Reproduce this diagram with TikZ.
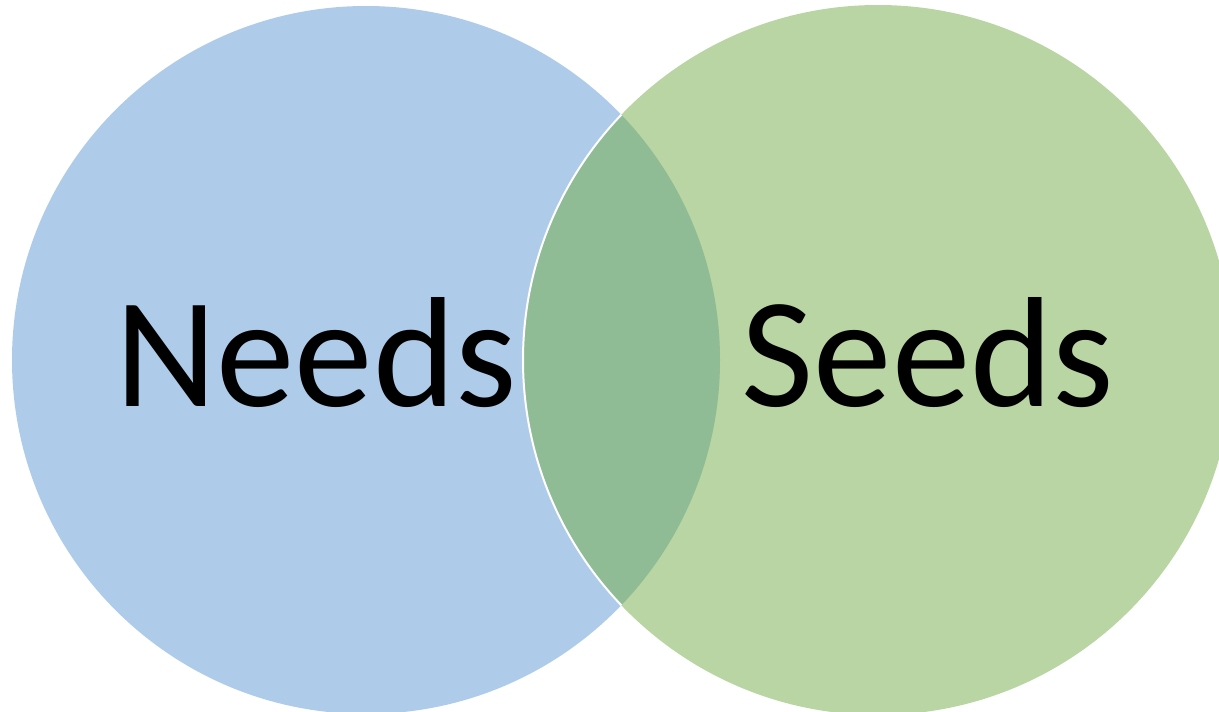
\documentclass[tikz,border=0pt]{standalone}
\usepackage{fontspec}
\setmainfont{Carlito}
\definecolor{needsblue}{HTML}{AECCE9}
\definecolor{seedsgreen}{HTML}{B8D5A3}
\definecolor{bothgreen}{HTML}{8FBB95}
\tikzset{
  word/.style={anchor=base, inner sep=0pt, font=\fontsize{157}{185}\selectfont}
}
\begin{document}
\begin{tikzpicture}[x=1pt, y=-1pt]
    % Frame
    \useasboundingbox (0,0) rectangle (1219,712);

    % Centres
    \coordinate (L) at (366,360);
    \coordinate (R) at (878,360);

    % Draw circles
    \fill[needsblue] (L) circle (354);
    \fill[seedsgreen] (R) circle (355);

    % Overlap
    \begin{scope}
        \clip (L) circle (354);
        \fill[bothgreen] (R) circle (355);
        \draw[white, line width=2pt] (R) circle (355);
    \end{scope}

    % Labels
    \node[word] (needs) at (316,406) {Needs};
    \node[word] (seeds) at (928,406) {Seeds};
\end{tikzpicture}
\end{document}
